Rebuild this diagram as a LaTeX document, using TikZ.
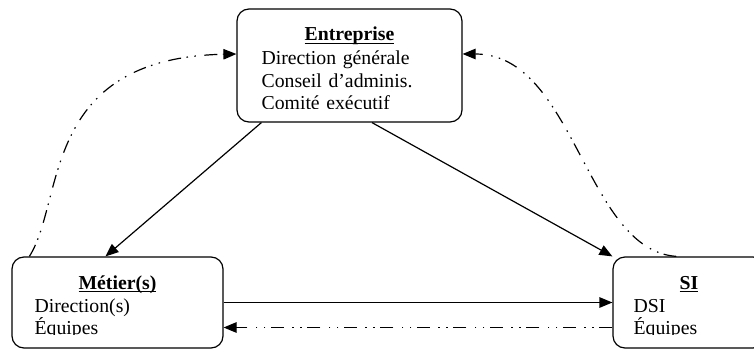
\documentclass[tikz,border=0pt]{standalone}
\usepackage{fontspec}
\setmainfont{Liberation Serif}
\usetikzlibrary{arrows.meta}
\newcommand\souligne[1]{\setbox0\hbox{#1}\rlap{\rule[-2.8pt]{\wd0}{1.2pt}}\box0}

\begin{document}
\begin{tikzpicture}[x=1pt, y=-1pt, >={Triangle[length=13pt,width=10.5pt]}, line width=1.2pt, every node/.style={font=\fontsize{19.75}{22.5}\selectfont}, box/.style={draw, rounded corners=12pt, inner sep=0pt}, titre/.style={anchor=base, inner sep=0pt, font=\fontsize{19.75}{22.5}\selectfont\bfseries}, corps/.style={anchor=base west, inner sep=0pt, text width=200pt, align=left}, tiretpt/.style={dash pattern=on 13pt off 5.5pt on 1.5pt off 6.5pt on 1.5pt off 8.5pt}]
\useasboundingbox (0,0) rectangle (754,350);
\node[box, minimum width=225pt, minimum height=113pt] (ent) at (349.5,65.5) {};
\node[box, minimum width=211pt, minimum height=91pt] (met) at (117.5,302.5) {};
\node[box, minimum width=152pt, minimum height=91pt] (si) at (689,302.5) {};
\node[titre] (entT) at (349.5,41) {\souligne{Entreprise}};
\node[titre] (metT) at (117.5,289) {\souligne{Métier(s)}};
\node[titre] (siT) at (689,289) {\souligne{SI}};
\begin{scope}
\clip (ent.north west) rectangle (462,108.8);
\node[corps] (entC) at (261,65) {Direction générale\\Conseil d’adminis.\\Comité exécutif};
\end{scope}
\begin{scope}
\clip (met.north west) rectangle (223,334.6);
\node[corps] (metC) at (34,312) {Direction(s)\\Équipes};
\end{scope}
\begin{scope}
\clip (si.north west) rectangle (754,334.6);
\node[corps] (siC) at (633,312) {DSI\\Équipes};
\end{scope}
\draw[->] ([xshift=25pt]ent.south west) -- ([xshift=-12pt]met.north);
\draw[->] ([xshift=22.5pt]ent.south) -- (si.north west);
\draw[->] (met.east) -- (si.west);
\draw[->, tiretpt] ([yshift=-25pt]si.west) -- ([yshift=-25pt]met.east);
\draw[->, tiretpt] ([xshift=18pt]met.north west) .. controls (65,200) and (40,58) .. ([yshift=11.5pt]ent.west);
\draw[->, tiretpt] ([xshift=64pt]si.north west) .. controls (585,250) and (575,54) .. ([yshift=11.5pt]ent.east);
\end{tikzpicture}
\end{document}
